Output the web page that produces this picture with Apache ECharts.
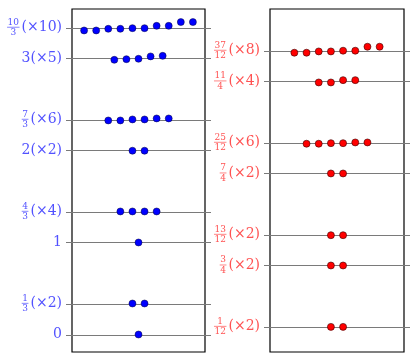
<!DOCTYPE html>
<html>
<head>
<meta charset="utf-8">
<script src="https://cdn.jsdelivr.net/npm/echarts@6/dist/echarts.min.js"></script>
<style>
  html, body { margin: 0; padding: 0; background: #fff; }
  #chart { width: 413px; height: 362px; }
</style>
</head>
<body>
<div id="chart"></div>
<script>
// left panel: levels, label parts and the perturbed points
const leftLevels = [0, 1 / 3, 1, 4 / 3, 2, 7 / 3, 3, 10 / 3]
const leftNum = ['0', '1', '1', '4', '2', '7', '3', '10']
const leftDen = ['', '3', '', '3', '', '3', '', '3']
const leftMult = [1, 2, 1, 4, 2, 6, 5, 10]
const leftDots = [
  [0],
  [0.337, 0.337],
  [1.0],
  [1.337, 1.337, 1.337, 1.337],
  [1.997, 1.997],
  [2.326, 2.326, 2.337, 2.337, 2.348, 2.348],
  [2.985, 2.992, 2.996, 3.022, 3.028],
  [3.304, 3.304, 3.322, 3.322, 3.329, 3.329, 3.354, 3.354, 3.395, 3.395]
]

// right panel
const rightLevels = [1 / 12, 3 / 4, 13 / 12, 7 / 4, 25 / 12, 11 / 4, 37 / 12]
const rightNum = ['1', '3', '13', '7', '25', '11', '37']
const rightDen = ['12', '4', '12', '4', '12', '4', '12']
const rightMult = [2, 2, 2, 2, 6, 4, 8]
const rightDots = [
  [0.083, 0.083],
  [0.75, 0.75],
  [1.079, 1.079],
  [1.75, 1.75],
  [2.073, 2.073, 2.079, 2.079, 2.087, 2.087],
  [2.739, 2.739, 2.764, 2.764],
  [3.062, 3.062, 3.076, 3.076, 3.084, 3.084, 3.127, 3.127]
]

const font = '"DejaVu Serif", serif'
const fracSize = 9
const measureCtx = document.createElement('canvas').getContext('2d')
function measure(s, size) {
  measureCtx.font = size + 'px ' + font
  return measureCtx.measureText(s).width
}

function dotData(groups) {
  const out = []
  groups.forEach(g => {
    g.forEach((v, j) => out.push([j - (g.length - 1) / 2, v]))
  })
  return out
}

function lineItem(params, api) {
  const cs = params.coordSys
  const y = Math.round(api.coord([0, api.value(1)])[1]) + 0.5
  return {
    type: 'line',
    shape: { x1: cs.x - 6, y1: y, x2: cs.x + cs.width + 6, y2: y },
    style: { stroke: '#7a7a7a', lineWidth: 1 }
  }
}

function labelItem(nums, dens, mults, color) {
  return function (params, api) {
    const i = params.dataIndex
    const cs = params.coordSys
    const y = api.coord([0, api.value(1)])[1]
    const xr = cs.x - 10
    const mult = mults[i] > 1 ? '(×' + mults[i] + ')' : ''
    const children = []
    if (dens[i]) {
      children.push({
        type: 'text',
        style: { text: mult, x: xr, y: y, align: 'right', verticalAlign: 'middle', font: '14px ' + font, fill: color }
      })
      const w = measure(mult, 14)
      const fw = Math.max(measure(nums[i], fracSize), measure(dens[i], fracSize)) + 1
      const xc = xr - w - 2 - fw / 2
      children.push({
        type: 'text',
        style: { text: nums[i], x: xc, y: y - 1, align: 'center', verticalAlign: 'bottom', font: fracSize + 'px ' + font, fill: color }
      })
      children.push({
        type: 'line',
        shape: { x1: xc - fw / 2, y1: y - 0.5, x2: xc + fw / 2, y2: y - 0.5 },
        style: { stroke: color, lineWidth: 0.7 }
      })
      children.push({
        type: 'text',
        style: { text: dens[i], x: xc, y: y + 0.5, align: 'center', verticalAlign: 'top', font: fracSize + 'px ' + font, fill: color }
      })
    } else {
      children.push({
        type: 'text',
        style: { text: nums[i] + mult, x: xr, y: y, align: 'right', verticalAlign: 'middle', font: '14px ' + font, fill: color }
      })
    }
    return { type: 'group', children: children }
  }
}

const blueText = '#5252ff'
const redText = '#ff5252'

const yBase = { type: 'value', min: -0.19, max: 3.537, show: false }
const xBase = { type: 'value', min: -5.5, max: 5.5, show: false }

const chart = echarts.init(document.getElementById('chart'))
chart.setOption({
  animation: false,
  grid: [
    { left: 72, right: 208, top: 9, bottom: 10, show: true, borderColor: '#000', borderWidth: 1.2 },
    { left: 270, right: 9, top: 9, bottom: 10, show: true, borderColor: '#000', borderWidth: 1.2 }
  ],
  xAxis: [
    Object.assign({ gridIndex: 0 }, xBase),
    Object.assign({ gridIndex: 1 }, xBase)
  ],
  yAxis: [
    Object.assign({ gridIndex: 0 }, yBase),
    Object.assign({ gridIndex: 1 }, yBase)
  ],
  series: [
    {
      type: 'custom', xAxisIndex: 0, yAxisIndex: 0, z: 1, silent: true,
      data: leftLevels.map(v => [0, v]), renderItem: lineItem
    },
    {
      type: 'custom', xAxisIndex: 1, yAxisIndex: 1, z: 1, silent: true,
      data: rightLevels.map(v => [0, v]), renderItem: lineItem
    },
    {
      type: 'custom', xAxisIndex: 0, yAxisIndex: 0, z: 2, silent: true,
      data: leftLevels.map(v => [0, v]), renderItem: labelItem(leftNum, leftDen, leftMult, blueText)
    },
    {
      type: 'custom', xAxisIndex: 1, yAxisIndex: 1, z: 2, silent: true,
      data: rightLevels.map(v => [0, v]), renderItem: labelItem(rightNum, rightDen, rightMult, redText)
    },
    {
      type: 'scatter', xAxisIndex: 0, yAxisIndex: 0, z: 3,
      symbolSize: 7,
      itemStyle: { color: '#0000ff', borderColor: '#00003a', borderWidth: 0.5, opacity: 1 },
      data: dotData(leftDots)
    },
    {
      type: 'scatter', xAxisIndex: 1, yAxisIndex: 1, z: 3,
      symbolSize: 7,
      itemStyle: { color: '#ff0000', borderColor: '#3a0000', borderWidth: 0.6, opacity: 1 },
      data: dotData(rightDots)
    }
  ]
})
</script>
</body>
</html>
